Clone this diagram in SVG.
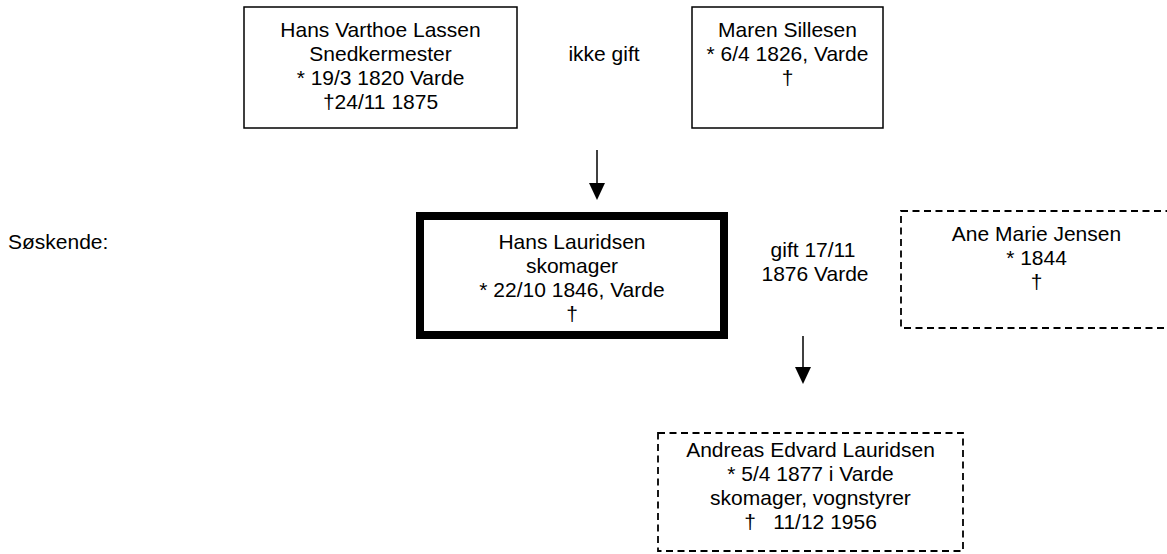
<svg xmlns="http://www.w3.org/2000/svg" width="1167" height="554" viewBox="0 0 1167 554">
<style>
text{font-family:"Liberation Sans",Arial,sans-serif;font-size:21px;fill:#000}
.c{text-anchor:middle}
.box{fill:#fff;stroke:#000;stroke-width:1.5}
.thick{fill:#fff;stroke:#000;stroke-width:8}
.dash{fill:#fff;stroke:#000;stroke-width:1.8;stroke-dasharray:7 4.5}
.ln{stroke:#000;stroke-width:1.5;fill:none}
</style>
<rect width="1167" height="554" fill="#fff"/>
<g id="father">
<rect class="box" x="244" y="7" width="273" height="121"/>
<text class="c" x="380.5" y="37">Hans Varthoe Lassen</text>
<text class="c" x="380.5" y="61">Snedkermester</text>
<text class="c" x="380.5" y="85">* 19/3 1820 Varde</text>
<text class="c" x="380.5" y="109">†24/11 1875</text>
</g>
<g id="mother">
<rect class="box" x="692" y="7" width="191" height="121"/>
<text class="c" x="787.5" y="37">Maren Sillesen</text>
<text class="c" x="787.5" y="61">* 6/4 1826, Varde</text>
<text class="c" x="787.5" y="85">†</text>
</g>
<g id="parents-label">
<text class="c" x="604" y="61">ikke gift</text>
</g>
<g id="siblings">
<text x="8" y="249">Søskende:</text>
</g>
<g id="main">
<rect class="thick" x="420" y="216" width="304" height="119"/>
<text class="c" x="572" y="249">Hans Lauridsen</text>
<text class="c" x="572" y="273">skomager</text>
<text class="c" x="572" y="297">* 22/10 1846, Varde</text>
<text class="c" x="572" y="321">†</text>
</g>
<g id="marriage-label">
<text class="c" x="813" y="257">gift 17/11</text>
<text class="c" x="815" y="281">1876 Varde</text>
</g>
<g id="spouse">
<rect class="dash" x="901" y="211" width="280" height="117"/>
<text class="c" x="1036.5" y="241">Ane Marie Jensen</text>
<text class="c" x="1036.5" y="265">* 1844</text>
<text class="c" x="1036.5" y="289">†</text>
</g>
<g id="child">
<rect class="dash" x="658" y="433" width="305" height="118"/>
<text class="c" x="810.5" y="457">Andreas Edvard Lauridsen</text>
<text class="c" x="810.5" y="481">* 5/4 1877 i Varde</text>
<text class="c" x="810.5" y="505">skomager, vognstyrer</text>
<text class="c" x="810.5" y="529" xml:space="preserve">†   11/12 1956</text>
</g>
<g id="connectors">
<line class="ln" x1="597" y1="150" x2="597" y2="185"/>
<polygon points="589,183 605,183 597,200" fill="#000"/>
<line class="ln" x1="803" y1="336" x2="803" y2="369"/>
<polygon points="795,367 811,367 803,384" fill="#000"/>
</g>
</svg>
